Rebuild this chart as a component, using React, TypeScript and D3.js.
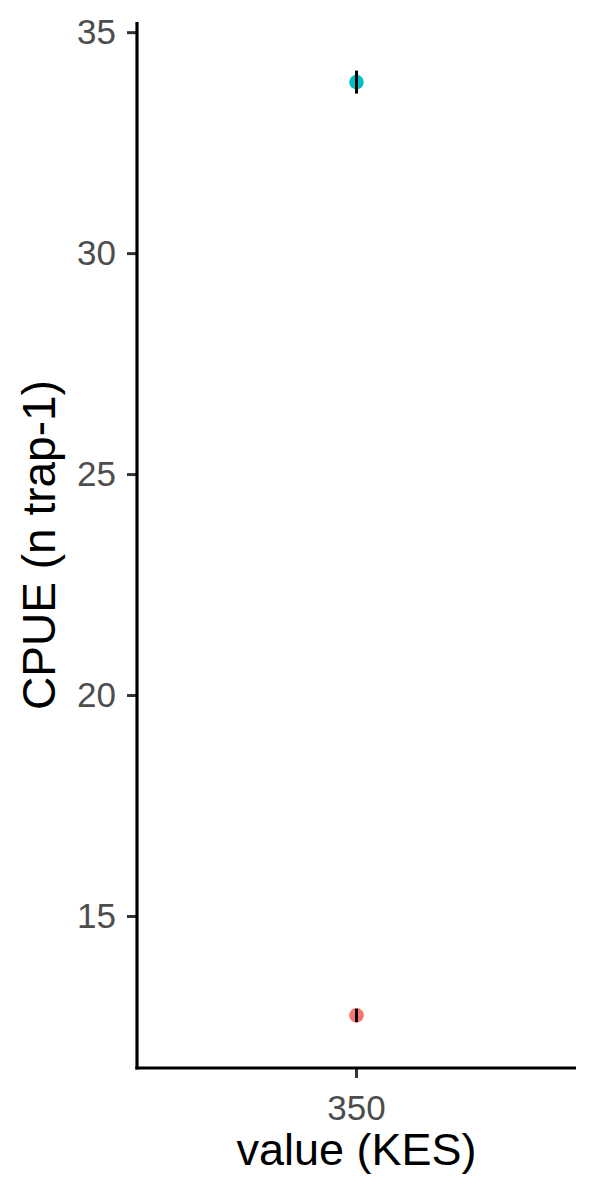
import React, { useEffect, useRef } from 'react';
import * as d3 from 'd3';

const categories = ['350'];
const groups = ['A', 'B'];
const cpue = [12.75, 33.87];
const se = [0.15, 0.26];
const colors = ['#F8766D', '#00BFC4'];
const yTicks = [15, 20, 25, 30, 35];

const W = 600;
const H = 1200;

export default function App() {
  const ref = useRef<SVGSVGElement>(null);

  useEffect(() => {
    document.body.style.margin = '0';
    const svg = d3.select(ref.current);
    svg.selectAll('*').remove();

    const left = 137, right = 576, top = 22, bottom = 1068;

    const y = d3.scaleLinear().domain([11.56, 35.23]).range([bottom, top]);
    const x = d3.scaleBand().domain(categories).range([left, right]);

    const font = 'Liberation Sans, Arial, Helvetica, sans-serif';

    // y axis
    const yAxis = svg.append('g').attr('transform', `translate(${left},0)`)
      .call(d3.axisLeft(y).tickValues(yTicks).tickSize(10).tickPadding(11).tickFormat(d3.format('d')));
    yAxis.select('.domain').remove();
    yAxis.selectAll('line').attr('stroke', '#333333').attr('stroke-width', 3);
    yAxis.selectAll('text').attr('fill', '#4D4D4D').style('font-size', '35px').style('font-family', font);

    // x axis
    const xAxis = svg.append('g').attr('transform', `translate(0,${bottom})`)
      .call(d3.axisBottom(x).tickSize(10));
    xAxis.select('.domain').remove();
    xAxis.selectAll('line').attr('stroke', '#333333').attr('stroke-width', 3);
    xAxis.selectAll('text').attr('fill', '#4D4D4D').style('font-size', '35px').style('font-family', font)
      .attr('y', 27).attr('dy', '0.71em');

    // axis lines
    svg.append('line').attr('x1', left).attr('x2', left).attr('y1', top).attr('y2', bottom + 1.6)
      .attr('stroke', 'black').attr('stroke-width', 3.2);
    svg.append('line').attr('x1', left - 1.6).attr('x2', right).attr('y1', bottom).attr('y2', bottom)
      .attr('stroke', 'black').attr('stroke-width', 3.2);

    const cx = (x('350') as number) + x.bandwidth() / 2;

    // points
    svg.selectAll('circle.pt').data(groups).enter().append('circle')
      .attr('class', 'pt')
      .attr('cx', cx)
      .attr('cy', (_d, i) => y(cpue[i]))
      .attr('r', 7.3)
      .attr('fill', (_d, i) => colors[i]);

    // error bars
    svg.selectAll('line.err').data(groups).enter().append('line')
      .attr('class', 'err')
      .attr('x1', cx).attr('x2', cx)
      .attr('y1', (_d, i) => y(cpue[i] - se[i]))
      .attr('y2', (_d, i) => y(cpue[i] + se[i]))
      .attr('stroke', 'black').attr('stroke-width', 3);

    // titles
    svg.append('text').attr('x', (left + right) / 2).attr('y', 1165)
      .attr('text-anchor', 'middle').style('font-size', '45px').style('font-family', font)
      .text('value (KES)');
    svg.append('text')
      .attr('transform', `translate(55,${(top + bottom) / 2}) rotate(-90)`)
      .attr('text-anchor', 'middle').style('font-size', '46px').style('font-family', font)
      .text('CPUE (n trap-1)');
  }, []);

  return <svg ref={ref} width={W} height={H} style={{ display: 'block', background: 'white' }} />;
}
